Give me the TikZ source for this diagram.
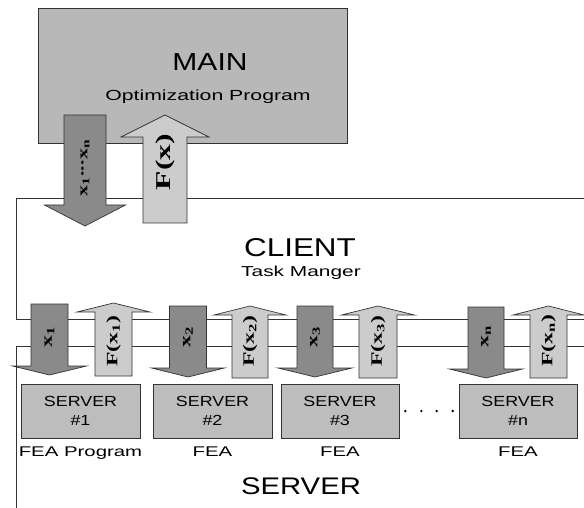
\documentclass[tikz,border=0pt]{standalone}
\usepackage{fontspec}
\setmainfont{Liberation Sans}
\newfontfamily\widesans[FakeStretch=1.45]{Liberation Sans}
\newfontfamily\bigsans[FakeStretch=1.22]{Liberation Sans}
\newfontfamily\arrfont[FakeStretch=1.5]{Liberation Serif}
\usetikzlibrary{positioning}
\usetikzlibrary{calc}
\definecolor{mainfill}{gray}{0.72}
\definecolor{downfill}{gray}{0.54}
\definecolor{upfill}{gray}{0.80}
\definecolor{boxfill}{gray}{0.74}
\tikzset{
    frame/.style = {draw=black!80, line width=0.6pt},
    mainbox/.style = {rectangle, draw=black!80, line width=0.6pt, fill=mainfill, minimum width=9.27cm, minimum height=4.05cm},
    serverbox/.style = {rectangle, draw=black!80, line width=0.6pt, fill=boxfill, minimum width=3.57cm, minimum height=1.62cm, align=center, inner sep=0pt, font=\bigsans\fontsize{12.5}{16.5}\selectfont},
    downarr/.style = {draw=black!80, line width=0.6pt, fill=downfill},
    uparr/.style = {draw=black!80, line width=0.6pt, fill=upfill},
    bigtitle/.style = {inner sep=0pt, font=\bigsans\fontsize{21}{24}\selectfont},
    subtitle/.style = {inner sep=0pt, font=\widesans\fontsize{12.5}{14}\selectfont},
    fealabel/.style = {inner sep=0pt, font=\widesans\fontsize{12}{14}\selectfont},
    arrlabel/.style = {rotate=90, inner sep=0pt, font=\arrfont\bfseries\fontsize{13.5}{15}\selectfont},
    arrlabelbig/.style = {rotate=90, inner sep=0pt, font=\arrfont\bfseries\fontsize{18}{20}\selectfont}
}
% block arrows: centre x, half shaft, half head, tail, head base, tip
\newcommand{\downblock}[6]{%
  \draw[downarr] (#1-#2,#4) -- (#1+#2,#4) -- (#1+#2,#5) -- (#1+#3,#5) -- (#1,#6) -- (#1-#3,#5) -- (#1-#2,#5) -- cycle;}
\newcommand{\upblock}[6]{%
  \draw[uparr] (#1-#2,#4) -- (#1+#2,#4) -- (#1+#2,#5) -- (#1+#3,#5) -- (#1,#6) -- (#1-#3,#5) -- (#1-#2,#5) -- cycle;}

\begin{document}
\begin{tikzpicture}[x=0.03cm, y=-0.03cm]
  \useasboundingbox (0,0) rectangle (584,508);

  % client and server frames
  \draw[frame] (584,198) -| (16,319) -- (584,319);
  \draw[frame] (584,346) -| (16,508);

  % main program
  \node[mainbox] (main) at (192.5,75.5) {};
  \node[bigtitle] (maintitle) at (210,62) {MAIN};
  \node[subtitle] (mainsub) at (208,97) {Optimization Program};

  \node[bigtitle, font=\bigsans\fontsize{22}{24}\selectfont] (client) at (300,248) {CLIENT};
  \node[subtitle, font=\widesans\fontsize{12.3}{14}\selectfont] (task) at (301,273) {Task Manger};
  \node[bigtitle, font=\bigsans\fontsize{20.5}{24}\selectfont] (server) at (301,486) {SERVER};

  % main <-> client
  \downblock{85}{21}{40.5}{115}{205}{226}
  \upblock{165}{22}{44}{223}{137}{115}
  \node[arrlabel, font=\arrfont\bfseries\fontsize{12.5}{14}\selectfont] (xall) at (85,168) {x\textsubscript{1}\kern-0.5pt·\kern-1.5pt·\kern-1.5pt·\kern-0.5pt x\textsubscript{n}};
  \node[arrlabelbig] (fx) at (165,162) {F(x)};

  % client <-> servers
  \downblock{49.5}{18.5}{37}{304}{366}{375}
  \upblock{113.5}{18.5}{36.5}{376}{312}{303}
  \downblock{188}{18.5}{36.5}{306}{368}{377}
  \upblock{250}{18}{36}{378}{315}{306}
  \downblock{315}{18}{37}{306}{368}{377}
  \upblock{378}{19}{36.5}{378}{315}{306}
  \downblock{486}{18}{36.5}{307}{369}{378}
  \upblock{548.5}{18.5}{35.5}{378}{315}{306}
  \foreach \cx/\n in {49.5/1, 188/2, 315/3, 486/n}
    \node[arrlabel] (x\n) at (\cx,337) {x\textsubscript{\n}};
  \foreach \cx/\n in {113.5/1, 250/2, 378/3, 548.5/n}
    \node[arrlabel] (fx\n) at (\cx,341) {F(x\textsubscript{\n})};

  % servers
  \node[serverbox] (s1) at (80.5,411) {SERVER\\\#1};
  \node[serverbox] (s2) at (212.5,411) {SERVER\\\#2};
  \node[serverbox, minimum width=3.54cm] (s3) at (340,411) {SERVER\\\#3};
  \node[serverbox, minimum width=3.54cm] (sn) at (518,411) {SERVER\\\#n};
  \foreach \p in {0.1,0.37,0.63,0.9}
    \fill ($(s3.east)!\p!(sn.west)$) circle (1.1pt);

  \node[fealabel, below=0.24cm of s1] (fea1) {FEA Program};
  \node[fealabel, below=0.24cm of s2] (fea2) {FEA};
  \node[fealabel, below=0.24cm of s3] (fea3) {FEA};
  \node[fealabel, below=0.24cm of sn] (fean) {FEA};
\end{tikzpicture}
\end{document}
